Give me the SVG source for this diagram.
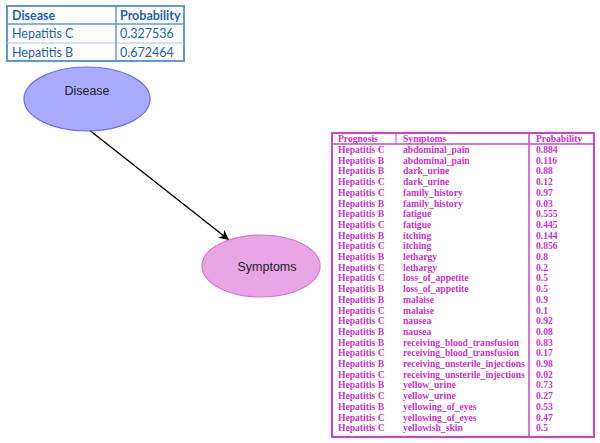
<svg xmlns="http://www.w3.org/2000/svg" width="600" height="443" viewBox="0 0 600 443">
<style>
.bt{font-family:Lato,"Liberation Sans",sans-serif;font-size:12.5px;fill:#1f5fb0}
.bh{font-weight:bold}
.mt{font-family:"Liberation Serif","Times New Roman",serif;font-size:9.6px;font-weight:bold;fill:#cc33cc}
.node{font-family:"Liberation Sans",Arial,sans-serif;font-size:12.5px;fill:#222}
</style>
<defs>
<marker id="ah" markerWidth="12" markerHeight="10" refX="10" refY="5" orient="auto" markerUnits="userSpaceOnUse">
<path d="M0,0 L10,5 L0,10 L3,5 Z" fill="#000"/>
</marker>
</defs>
<rect width="600" height="443" fill="#fff"/>
<g id="disease-table">
<rect x="7" y="6" width="177" height="55" fill="#fff" stroke="#5b9bd5" stroke-width="2"/>
<line x1="7" y1="24" x2="184" y2="24" stroke="#5b9bd5" stroke-width="1.5"/>
<line x1="7" y1="43" x2="184" y2="43" stroke="#a9c8e8" stroke-width="1"/>
<line x1="116" y1="6" x2="116" y2="61" stroke="#5b9bd5" stroke-width="1.5"/>
<text class="bt bh" x="12" y="20">Disease</text>
<text class="bt bh" x="120" y="20">Probability</text>
<text class="bt" x="12" y="38">Hepatitis C</text>
<text class="bt" x="120" y="38">0.327536</text>
<text class="bt" x="12" y="57">Hepatitis B</text>
<text class="bt" x="120" y="57">0.672464</text>
</g>
<g id="connectors">
<line x1="88" y1="129" x2="229" y2="240" stroke="#000" stroke-width="1.5" marker-end="url(#ah)"/>
</g>
<g id="node-disease">
<ellipse cx="87" cy="99" rx="63" ry="32" fill="#aaaaff" stroke="#6b6bf5" stroke-width="1.2"/>
<text class="node" x="87" y="95" text-anchor="middle">Disease</text>
</g>
<g id="node-symptoms">
<ellipse cx="261" cy="266" rx="59" ry="31" fill="#e8a4e4" stroke="#d47ad0" stroke-width="1.2"/>
<text class="node" x="267" y="271" text-anchor="middle">Symptoms</text>
</g>
<g id="symptoms-table">
<rect x="332" y="133" width="262" height="304" fill="#fff" stroke="#cc44cc" stroke-width="2"/>
<line x1="332" y1="144" x2="594" y2="144" stroke="#cc44cc" stroke-width="1.5"/>
<line x1="396" y1="133" x2="396" y2="144" stroke="#cc44cc" stroke-width="1"/>
<line x1="529" y1="133" x2="529" y2="437" stroke="#cc44cc" stroke-width="1.5"/>
<text class="mt" x="338" y="141.5">Prognosis</text>
<text class="mt" x="403" y="141.5">Symptoms</text>
<text class="mt" x="536" y="141.5">Probability</text>
<g class="mt">
<text x="338" y="153">Hepatitis C</text><text x="403" y="153">abdominal_pain</text><text x="536" y="153">0.884</text>
<text x="338" y="163.7">Hepatitis B</text><text x="403" y="163.7">abdominal_pain</text><text x="536" y="163.7">0.116</text>
<text x="338" y="174.4">Hepatitis B</text><text x="403" y="174.4">dark_urine</text><text x="536" y="174.4">0.88</text>
<text x="338" y="185.1">Hepatitis C</text><text x="403" y="185.1">dark_urine</text><text x="536" y="185.1">0.12</text>
<text x="338" y="195.8">Hepatitis C</text><text x="403" y="195.8">family_history</text><text x="536" y="195.8">0.97</text>
<text x="338" y="206.5">Hepatitis B</text><text x="403" y="206.5">family_history</text><text x="536" y="206.5">0.03</text>
<text x="338" y="217.2">Hepatitis B</text><text x="403" y="217.2">fatigue</text><text x="536" y="217.2">0.555</text>
<text x="338" y="227.9">Hepatitis C</text><text x="403" y="227.9">fatigue</text><text x="536" y="227.9">0.445</text>
<text x="338" y="238.6">Hepatitis B</text><text x="403" y="238.6">itching</text><text x="536" y="238.6">0.144</text>
<text x="338" y="249.3">Hepatitis C</text><text x="403" y="249.3">itching</text><text x="536" y="249.3">0.856</text>
<text x="338" y="260">Hepatitis B</text><text x="403" y="260">lethargy</text><text x="536" y="260">0.8</text>
<text x="338" y="270.7">Hepatitis C</text><text x="403" y="270.7">lethargy</text><text x="536" y="270.7">0.2</text>
<text x="338" y="281.4">Hepatitis C</text><text x="403" y="281.4">loss_of_appetite</text><text x="536" y="281.4">0.5</text>
<text x="338" y="292.1">Hepatitis B</text><text x="403" y="292.1">loss_of_appetite</text><text x="536" y="292.1">0.5</text>
<text x="338" y="302.8">Hepatitis B</text><text x="403" y="302.8">malaise</text><text x="536" y="302.8">0.9</text>
<text x="338" y="313.5">Hepatitis C</text><text x="403" y="313.5">malaise</text><text x="536" y="313.5">0.1</text>
<text x="338" y="324.2">Hepatitis C</text><text x="403" y="324.2">nausea</text><text x="536" y="324.2">0.92</text>
<text x="338" y="334.9">Hepatitis B</text><text x="403" y="334.9">nausea</text><text x="536" y="334.9">0.08</text>
<text x="338" y="345.6">Hepatitis B</text><text x="403" y="345.6">receiving_blood_transfusion</text><text x="536" y="345.6">0.83</text>
<text x="338" y="356.3">Hepatitis C</text><text x="403" y="356.3">receiving_blood_transfusion</text><text x="536" y="356.3">0.17</text>
<text x="338" y="367">Hepatitis B</text><text x="403" y="367">receiving_unsterile_injections</text><text x="536" y="367">0.98</text>
<text x="338" y="377.7">Hepatitis C</text><text x="403" y="377.7">receiving_unsterile_injections</text><text x="536" y="377.7">0.02</text>
<text x="338" y="388.4">Hepatitis B</text><text x="403" y="388.4">yellow_urine</text><text x="536" y="388.4">0.73</text>
<text x="338" y="399.1">Hepatitis C</text><text x="403" y="399.1">yellow_urine</text><text x="536" y="399.1">0.27</text>
<text x="338" y="409.8">Hepatitis B</text><text x="403" y="409.8">yellowing_of_eyes</text><text x="536" y="409.8">0.53</text>
<text x="338" y="420.5">Hepatitis C</text><text x="403" y="420.5">yellowing_of_eyes</text><text x="536" y="420.5">0.47</text>
<text x="338" y="431.2">Hepatitis C</text><text x="403" y="431.2">yellowish_skin</text><text x="536" y="431.2">0.5</text>
</g>
</g>
</svg>
